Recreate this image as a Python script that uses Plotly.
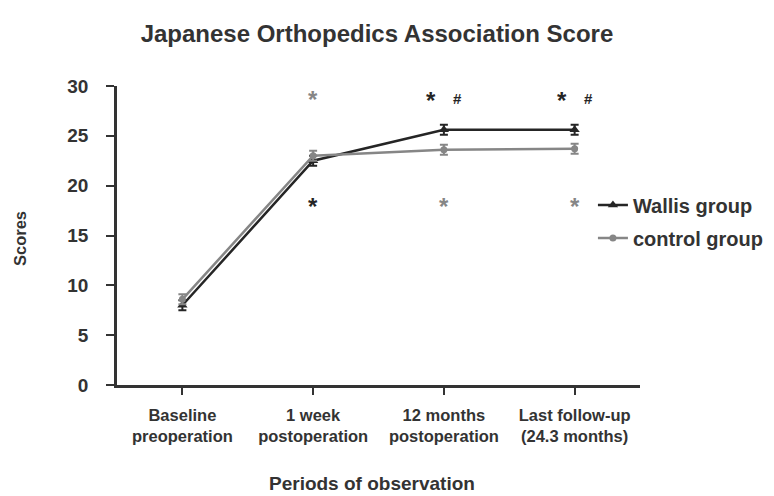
import plotly.graph_objects as go

categories = ["Baseline<br>preoperation", "1 week<br>postoperation", "12 months<br>postoperation", "Last follow-up<br>(24.3 months)"]
wallis = [8.0, 22.5, 25.6, 25.6]
wallis_err = [0.5, 0.5, 0.5, 0.5]
control = [8.6, 23.0, 23.6, 23.7]
control_err = [0.5, 0.5, 0.5, 0.5]
y_ticks = [0, 5, 10, 15, 20, 25, 30]

# significance markers
sig_x = [1, 2, 2, 3, 3, 1, 2, 3]
sig_y = [29.1, 29.0, 28.8, 29.0, 28.8, 18.4, 18.4, 18.4]
sig_text = ["*", "*", "#", "*", "#", "*", "*", "*"]
sig_group = ["control", "wallis", "wallis", "wallis", "wallis", "wallis", "control", "control"]
sig_dx = [0, -0.1, 0.105, -0.1, 0.105, 0, 0, 0]

BLACK = "#252525"
GREY = "#868686"
TXT = "#333333"
FONT = "Liberation Sans, Arial, sans-serif"

x = list(range(len(categories)))
fig = go.Figure()
fig.add_trace(go.Scatter(
    x=x, y=wallis, name="<b>Wallis group</b>", mode="lines+markers", legend="legend",
    line=dict(color=BLACK, width=2.5),
    marker=dict(symbol="triangle-up", size=9, color=BLACK),
    error_y=dict(type="data", array=wallis_err, color=BLACK, thickness=2, width=4),
))
fig.add_trace(go.Scatter(
    x=x, y=control, name="<b>control group</b>", mode="lines+markers", legend="legend2",
    line=dict(color=GREY, width=2.5),
    marker=dict(symbol="circle", size=7, color=GREY),
    error_y=dict(type="data", array=control_err, color=GREY, thickness=2, width=4),
))

for xi, yi, t, g, dx in zip(sig_x, sig_y, sig_text, sig_group, sig_dx):
    is_hash = t == "#"
    fig.add_annotation(
        x=xi + dx, y=yi, text=f"<b>{t}</b>", showarrow=False,
        font=dict(family=FONT, size=15 if is_hash else 24, color=BLACK if g == "wallis" else GREY),
        yshift=-1 if is_hash else -5,
    )

# axis titles as paper annotations
fig.add_annotation(text="<b>Scores</b>", xref="paper", yref="paper", x=-0.1855, y=0.4916,
                   textangle=-90, showarrow=False, xanchor="center", yanchor="middle",
                   font=dict(family=FONT, size=16.5, color=TXT))
fig.add_annotation(text="<b>Periods of observation</b>", xref="paper", yref="paper", x=0.487, y=-0.33,
                   showarrow=False, xanchor="center", yanchor="middle",
                   font=dict(family=FONT, size=19, color=TXT))

legend_common = dict(xanchor="left", yanchor="middle", bgcolor="rgba(0,0,0,0)",
                     font=dict(family=FONT, size=20, color=TXT), itemwidth=30)
fig.update_layout(
    width=774, height=496,
    margin=dict(l=117, r=134, t=86, b=111, autoexpand=False),
    paper_bgcolor="white", plot_bgcolor="white",
    font=dict(family=FONT, color=TXT),
    title=dict(text="<b>Japanese Orthopedics Association Score</b>", x=0.487, xanchor="center",
               y=0.933, yanchor="middle", font=dict(size=24, color=TXT)),
    showlegend=True,
    legend=dict(x=0.910, y=(385 - 205) / 299, **legend_common),
    legend2=dict(x=0.910, y=(385 - 238) / 299, **legend_common),
)
fig.update_xaxes(
    range=[-0.5, 3.5], tickmode="array", tickvals=x,
    ticktext=[f"<b>{c}</b>" for c in categories],
    showline=True, linecolor=TXT, linewidth=2.5,
    ticks="outside", ticklen=7, tickwidth=2, tickcolor=TXT,
    showgrid=False, zeroline=False, ticklabelstandoff=6,
    tickfont=dict(size=16.5, color=TXT),
)
fig.update_yaxes(
    range=[0, 30], tickmode="array", tickvals=y_ticks,
    ticktext=[f"<b>{v}</b>" for v in y_ticks],
    showline=True, linecolor=TXT, linewidth=2.5,
    ticks="outside", ticklen=8, tickwidth=2, tickcolor=TXT,
    showgrid=False, zeroline=False, ticklabelstandoff=14,
    tickfont=dict(size=19, color=TXT),
)

fig.write_html("out.html", config={"displayModeBar": False},
               post_script="document.body.style.margin='0';")
